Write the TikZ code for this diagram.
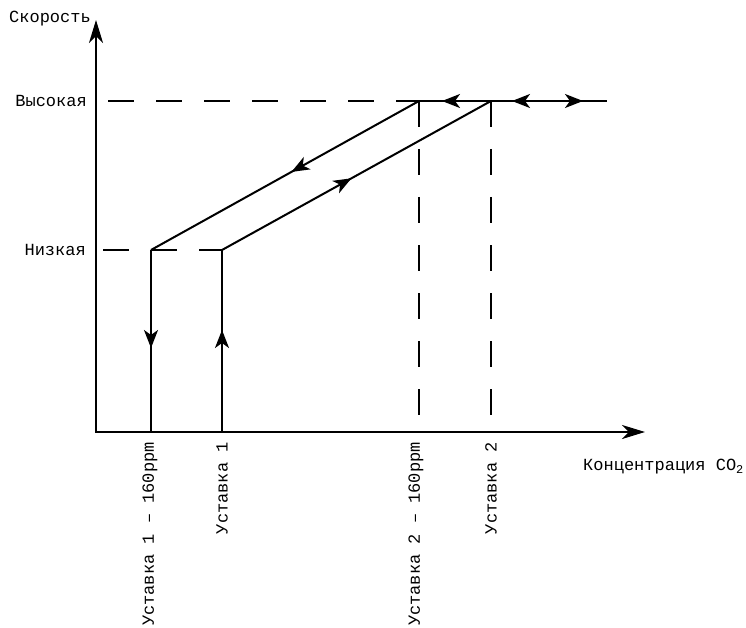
\documentclass[tikz,border=0pt]{standalone}
\usepackage{fontspec}
\newfontfamily\chartfont{Liberation Mono}
\usetikzlibrary{arrows.meta,decorations.markings}

\tikzset{
  axis/.style={line width=2.6pt,
    {Stealth[length=23pt,width=14pt,inset=7pt]}-{Stealth[length=23pt,width=14pt,inset=7pt]}},
  curve/.style={line width=2pt},
  guide/.style={line width=2pt,dash pattern=on 26pt off 22pt},
  fwdtip/.style={postaction={decorate,decoration={markings,
    mark=at position #1 with {\arrow{Stealth[length=18pt,width=14pt,inset=5pt]}}}}},
  revtip/.style={postaction={decorate,decoration={markings,
    mark=at position #1 with {\arrowreversed{Stealth[length=18pt,width=14pt,inset=5pt]}}}}},
  lbl/.style={font=\chartfont\fontsize{17}{20}\selectfont,inner sep=0pt}
}

\begin{document}
\begin{tikzpicture}[x=1pt,y=-1pt]
\useasboundingbox (0,0) rectangle (746,628);

\coordinate (O) at (96,432);
\coordinate (ytop) at (96,20);
\coordinate (xend) at (645,432);

\coordinate (lo1) at (151,250);
\coordinate (lo2) at (222,250);
\coordinate (hi1) at (419,101);
\coordinate (hi2) at (491,101);
\coordinate (hiend) at (607,101);
\coordinate (b1) at (151,432);
\coordinate (b2) at (222,432);
\coordinate (b3) at (419,415);
\coordinate (b4) at (491,415);
\coordinate (ghi) at (108,101);
\coordinate (glo) at (103,250);

% axes
\draw[axis] (ytop) -- (O) -- (xend);

% dashed guides
\draw[guide] (ghi) -- (hi1);
\draw[guide] (glo) -- (lo2);
\draw[guide] (hi1) -- (b3);
\draw[guide] (hi2) -- (b4);

% hysteresis loop
\draw[curve,fwdtip=98pt] (lo1) -- (b1);
\draw[curve,fwdtip=102pt] (b2) -- (lo2);
\draw[curve,fwdtip=146pt] (hi1) -- (lo1);
\draw[curve,fwdtip=148pt] (lo2) -- (hi2);
\draw[curve,fwdtip=49pt] (hi2) -- (hi1);
\draw[curve,revtip=21pt,fwdtip=92pt] (hi2) -- (hiend);

% labels
\node[lbl,anchor=east] (speed) at (91,19) {Скорость};
\node[lbl,anchor=east] (high) at (87,101) {Высокая};
\node[lbl,anchor=east] (low) at (86,250) {Низкая};
\node[lbl,rotate=90,anchor=east] (set1a) at (150,442) {Уставка 1 – 160ppm};
\node[lbl,rotate=90,anchor=east] (set1) at (222,442) {Уставка 1};
\node[lbl,rotate=90,anchor=east] (set2a) at (416,442) {Уставка 2 – 160ppm};
\node[lbl,rotate=90,anchor=east] (set2) at (491,442) {Уставка 2};
\node[lbl,anchor=west] (conc) at (583,467) {Концентрация CO\textsubscript{2}};

\end{tikzpicture}
\end{document}
